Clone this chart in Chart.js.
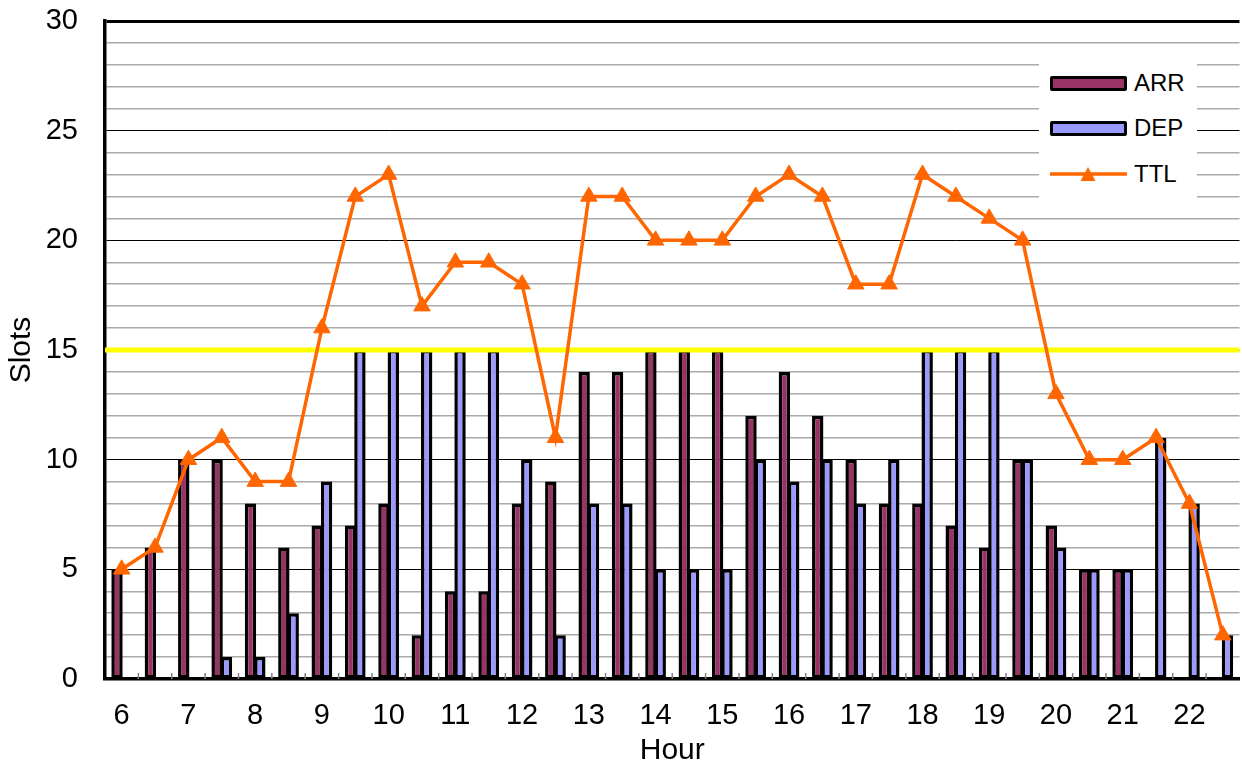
<!DOCTYPE html>
<html>
<head>
<meta charset="utf-8">
<script src="https://cdn.jsdelivr.net/npm/chart.js@4.4.1/dist/chart.umd.min.js"></script>
<style>
    body { margin: 0; background: #fff; overflow: hidden; }
    #wrap { position: relative; width: 1250px; height: 769px; }
    #legend {
        position: absolute; left: 1039px; top: 50px; width: 158px; height: 157px;
        background: #fff; font-family: "Liberation Sans", Arial, sans-serif;
        font-size: 24px; color: #000;
    }
    .item { position: absolute; left: 11px; height: 30px; display: flex; align-items: center; }
    .swatch { width: 77px; height: 15px; box-sizing: border-box; border: 3px solid #000; border-radius: 2px; margin-right: 7px; }
    .item svg { margin-right: 7px; }
</style>
</head>
<body>
<div id="wrap">
    <canvas id="slotChart" width="1250" height="769"></canvas>
    <div id="legend"></div>
</div>
<script>
// half-hour slots from 6:00 to 22:30
const slots = ['6:00', '6:30', '7:00', '7:30', '8:00', '8:30', '9:00', '9:30', '10:00', '10:30',
    '11:00', '11:30', '12:00', '12:30', '13:00', '13:30', '14:00', '14:30', '15:00', '15:30',
    '16:00', '16:30', '17:00', '17:30', '18:00', '18:30', '19:00', '19:30', '20:00', '20:30',
    '21:00', '21:30', '22:00', '22:30'];
const arrivals = [5, 6, 10, 10, 8, 6, 7, 7, 8, 2, 4, 4, 8, 9, 14, 14, 15, 15, 15, 12,
    14, 12, 10, 8, 8, 7, 6, 10, 7, 5, 5, 0, 0, 0];
const departures = [0, 0, 0, 1, 1, 3, 9, 15, 15, 15, 15, 15, 10, 2, 8, 8, 5, 5, 5, 10,
    9, 10, 8, 10, 15, 15, 15, 10, 6, 5, 5, 11, 8, 2];
const totals = [5, 6, 10, 11, 9, 9, 16, 22, 23, 17, 19, 19, 18, 11, 22, 22, 20, 20, 20, 22,
    23, 22, 18, 18, 23, 22, 21, 20, 13, 10, 10, 11, 8, 2];
const capacity = 15;

const FONT = '"Liberation Sans", Arial, sans-serif';

document.addEventListener('DOMContentLoaded', function() {
    if (typeof Chart === 'undefined') {
        console.error('Chart.js not loaded');
        return;
    }
    drawChart();
});

// capacity line under the TTL line, small inner ticks on the x axis
const overlayPlugin = {
    id: 'overlay',
    beforeDatasetsDraw(chart) {
        const {ctx, chartArea: a, scales: {x}} = chart;
        ctx.save();
        ctx.strokeStyle = '#808080';
        ctx.lineWidth = 1.5;
        ctx.beginPath();
        for (let i = 1; i < slots.length; i++) {
            const px = (x.getPixelForValue(i - 1) + x.getPixelForValue(i)) / 2;
            ctx.moveTo(px, a.bottom - 6);
            ctx.lineTo(px, a.bottom);
        }
        ctx.stroke();
        ctx.restore();
    },
    beforeDatasetDraw(chart, args) {
        if (args.meta.type !== 'line') return;
        const {ctx, chartArea: a, scales: {y}} = chart;
        const py = y.getPixelForValue(capacity);
        ctx.save();
        ctx.strokeStyle = '#FFFF00';
        ctx.lineWidth = 5;
        ctx.beginPath();
        ctx.moveTo(a.left, py);
        ctx.lineTo(a.right, py);
        ctx.stroke();
        ctx.restore();
    }
};

function drawChart() {
    const ctx = document.getElementById('slotChart');
    const chart = new Chart(ctx, {
        data: {
            labels: slots,
            datasets: [{
                type: 'line',
                label: 'TTL',
                data: totals,
                order: 0,
                borderColor: '#FF6600',
                backgroundColor: '#FF6600',
                borderWidth: 3.5,
                tension: 0,
                pointStyle: 'triangle',
                pointRadius: 9.5,
                pointBorderWidth: 1,
                pointBackgroundColor: '#FF6600',
                pointBorderColor: '#FF6600'
            }, {
                type: 'bar',
                label: 'ARR',
                data: arrivals,
                order: 1,
                backgroundColor: '#993366',
                borderColor: '#000000',
                borderWidth: 3.5,
                borderSkipped: false,
                barPercentage: 1.22,
                categoryPercentage: 0.56
            }, {
                type: 'bar',
                label: 'DEP',
                data: departures,
                order: 1,
                backgroundColor: '#9999FF',
                borderColor: '#000000',
                borderWidth: 3.5,
                borderSkipped: false,
                barPercentage: 1.22,
                categoryPercentage: 0.56
            }]
        },
        options: {
            responsive: false,
            animation: false,
            devicePixelRatio: 1,
            layout: { padding: { top: 21, right: 1, left: 0, bottom: 0 } },
            plugins: {
                legend: { display: false },
                tooltip: { enabled: false }
            },
            scales: {
                x: {
                    grid: { display: false, drawTicks: false },
                    border: { display: true, color: '#000000', width: 3.5 },
                    ticks: {
                        autoSkip: false,
                        maxRotation: 0,
                        padding: 20,
                        color: '#000000',
                        font: { family: FONT, size: 29 },
                        callback: function(value) {
                            const s = slots[value];
                            return s.endsWith(':00') ? s.split(':')[0] : '';
                        }
                    },
                    title: {
                        display: true,
                        text: 'Hour',
                        color: '#000000',
                        font: { family: FONT, size: 30 },
                        padding: { top: 0, bottom: 0 }
                    },
                    afterFit: function(scale) {
                        scale.height = 90;
                        scale.paddingLeft = 0;
                        scale.paddingRight = 0;
                    }
                },
                y: {
                    min: 0,
                    max: 30,
                    grid: {
                        drawTicks: false,
                        color: c => c.tick.value % 5 === 0 ? '#000000' : '#AAAAAA',
                        lineWidth: c => c.tick.value === 30 ? 3 : (c.tick.value % 5 === 0 ? 1 : 1.5)
                    },
                    border: { display: true, color: '#000000', width: 3.5 },
                    ticks: {
                        stepSize: 1,
                        autoSkip: false,
                        padding: 27,
                        color: '#000000',
                        font: { family: FONT, size: 29 },
                        callback: v => v % 5 === 0 ? v : ''
                    },
                    title: {
                        display: true,
                        text: 'Slots',
                        color: '#000000',
                        font: { family: FONT, size: 30 },
                        padding: { top: 4, bottom: 0 }
                    },
                    afterFit: function(scale) {
                        scale.width = 105;
                        scale.paddingTop = 0;
                        scale.paddingBottom = 0;
                    }
                }
            }
        },
        plugins: [overlayPlugin]
    });
    buildLegend(chart);
}

function buildLegend(chart) {
    const legend = document.getElementById('legend');
    const order = ['ARR', 'DEP', 'TTL'];
    const tops = [18, 63, 109];
    order.forEach((name, i) => {
        const ds = chart.data.datasets.find(d => d.label === name);
        const item = document.createElement('div');
        item.className = 'item';
        item.style.top = tops[i] + 'px';
        if (ds.type === 'bar') {
            const sw = document.createElement('div');
            sw.className = 'swatch';
            sw.style.background = ds.backgroundColor;
            item.appendChild(sw);
        } else {
            const c = ds.borderColor;
            item.insertAdjacentHTML('beforeend',
                '<svg width="77" height="16"><line x1="1" y1="8" x2="76" y2="8" stroke="' + c +
                '" stroke-width="3.5" stroke-linecap="round"/><polygon points="38,1 45.5,15 30.5,15" fill="' +
                c + '"/></svg>');
        }
        const label = document.createElement('span');
        label.textContent = name;
        item.appendChild(label);
        legend.appendChild(item);
    });
}
</script>
</body>
</html>
